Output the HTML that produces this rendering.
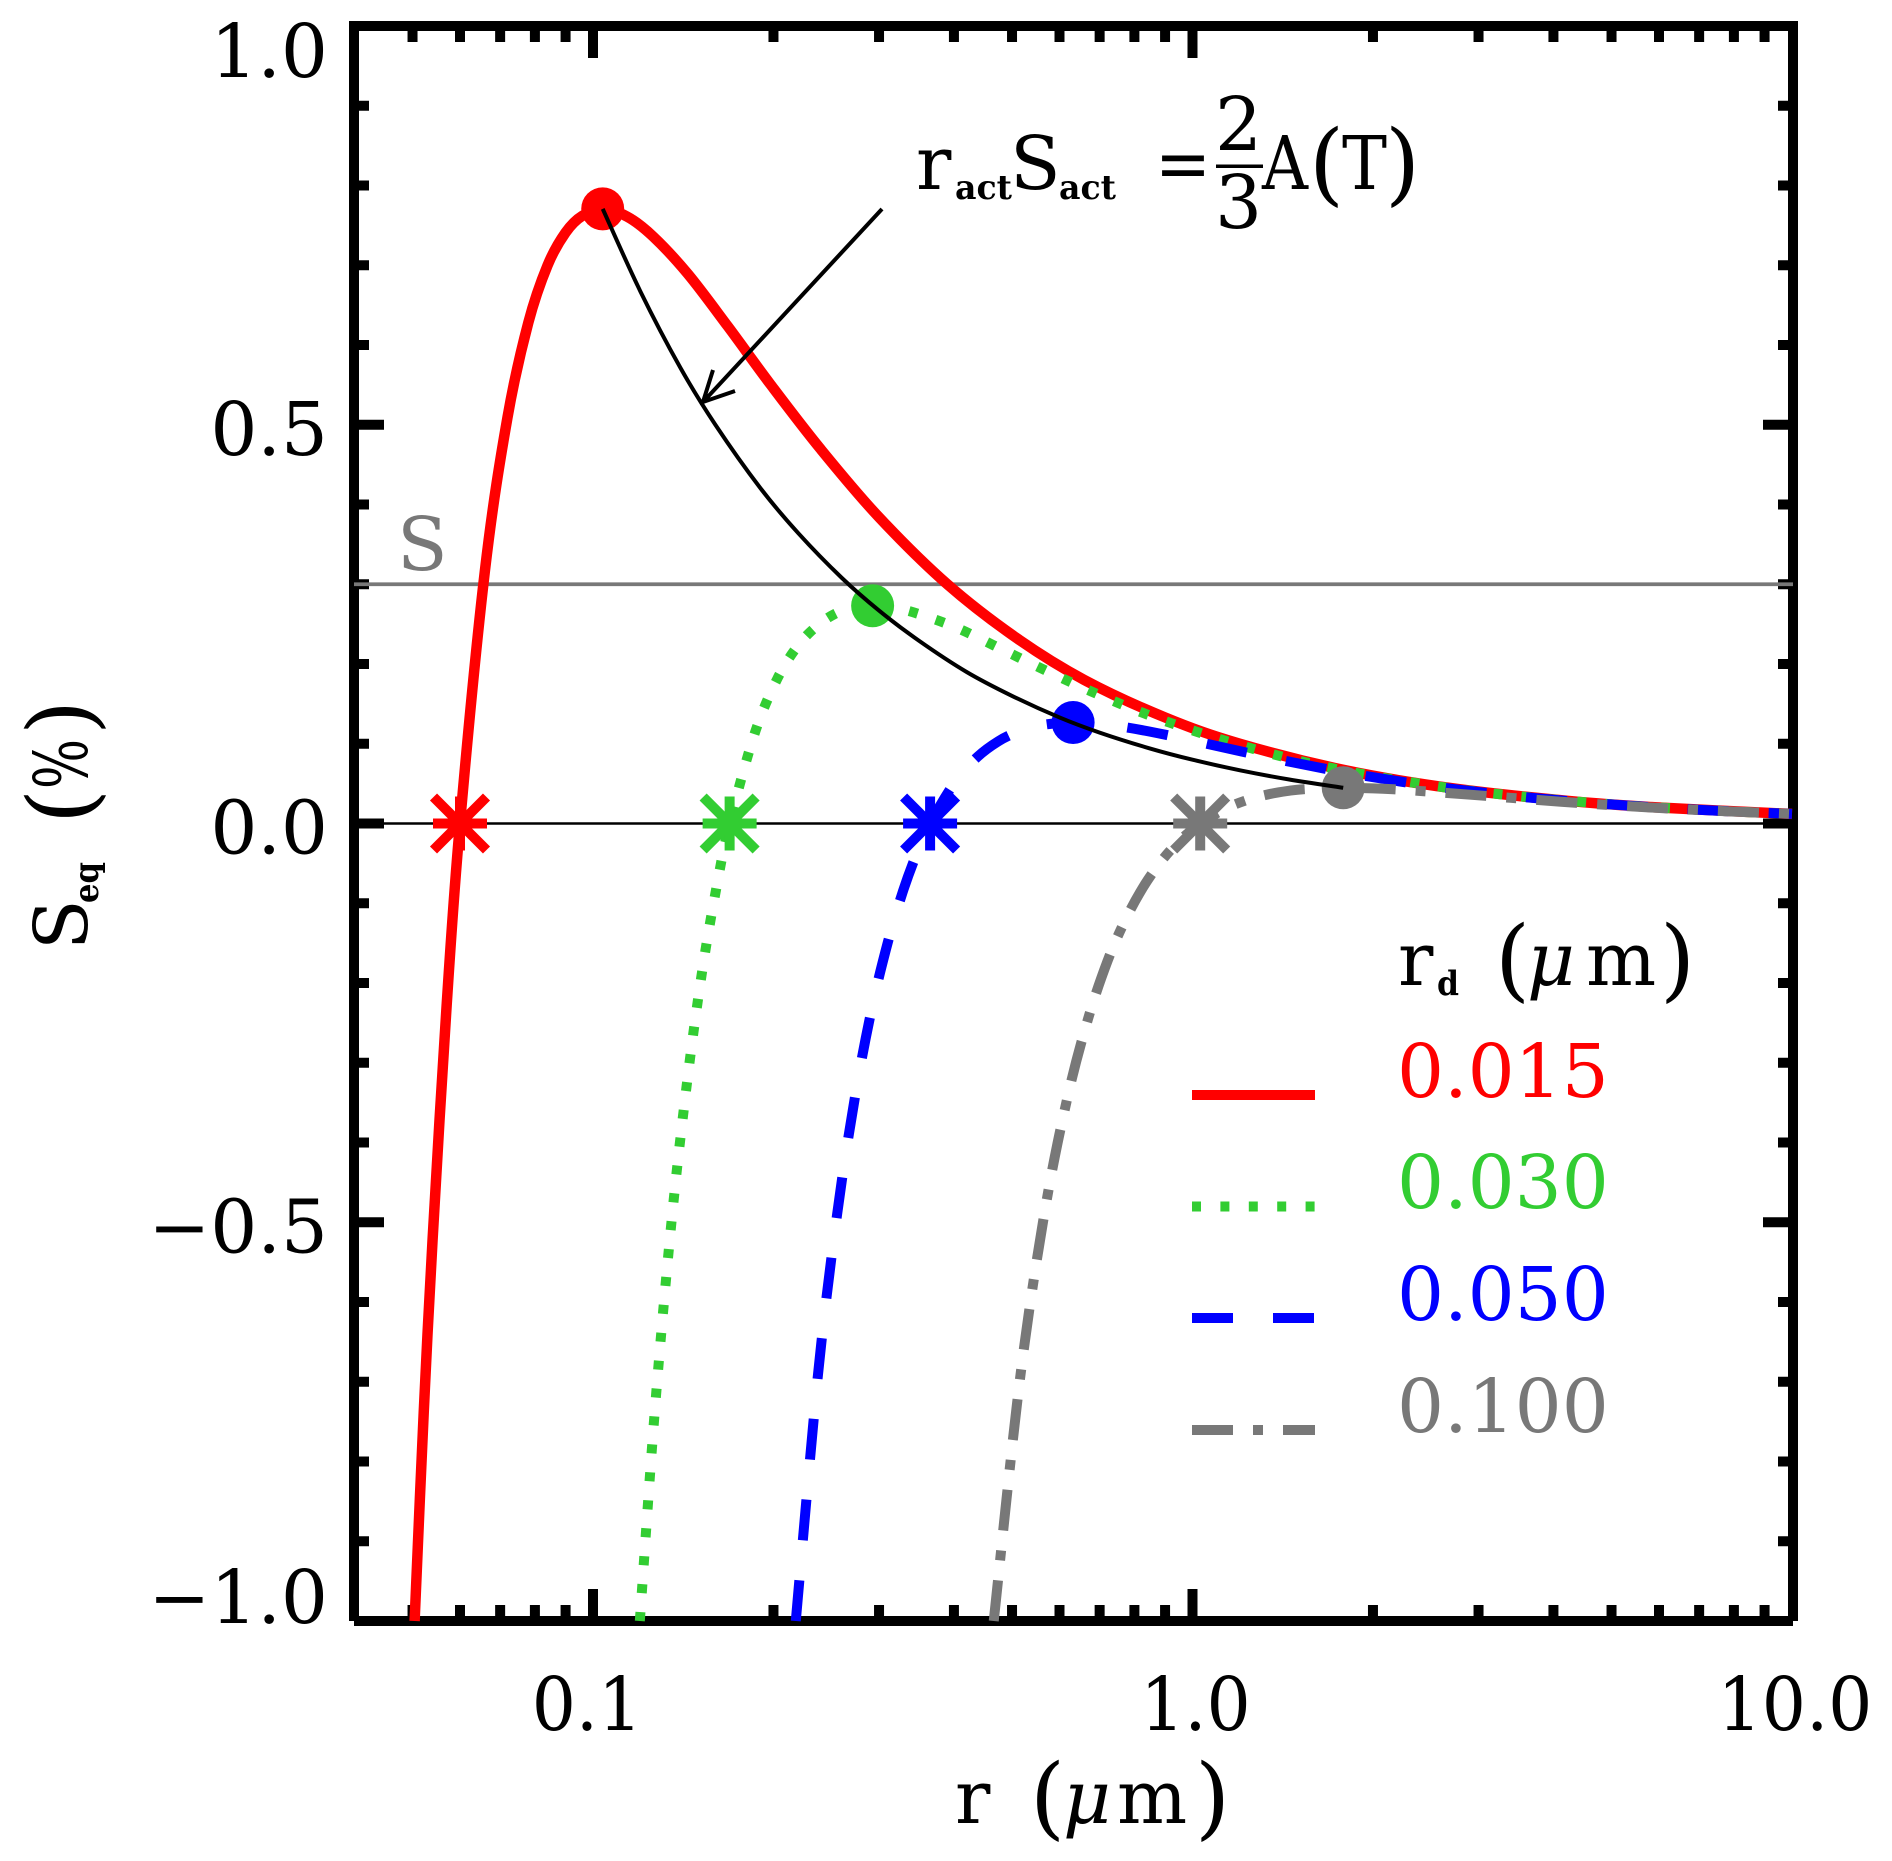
<!DOCTYPE html>
<html lang="en">
<head>
<meta charset="utf-8">
<title>Kohler curves</title>
<style>
html,body{margin:0;padding:0;background:#fff;}
svg{display:block;}
text{font-family:"DejaVu Serif","Liberation Serif",serif;font-size:74px;fill:#000;}
.sub{font-weight:bold;font-size:34px;}
.mu{font-style:italic;}
.paren{font-size:90px;}
</style>
</head>
<body>
<svg id="chart" xmlns="http://www.w3.org/2000/svg" width="1892" height="1861" viewBox="0 0 1892 1861">
  <rect x="0" y="0" width="1892" height="1861" fill="#ffffff"/>
  <g id="axes"></g>
  <g id="marks"></g>

  <text x="397" y="570" style="fill:#787878">S</text>

  <g>
    <text x="916" y="189">r</text>
    <text class="sub" x="955" y="199" textLength="57" lengthAdjust="spacingAndGlyphs">act</text>
    <text x="1010" y="189">S</text>
    <text class="sub" x="1059" y="199" textLength="57" lengthAdjust="spacingAndGlyphs">act</text>
    <text x="1155" y="189" textLength="56" lengthAdjust="spacingAndGlyphs">=</text>
    <text x="1215" y="150">2</text>
    <rect x="1216" y="164.5" width="47" height="3.5" fill="#000"/>
    <text x="1215" y="228">3</text>
    <text x="1262" y="189" textLength="46" lengthAdjust="spacingAndGlyphs">A</text>
    <text class="paren" x="1309" y="194">(</text>
    <text x="1342" y="189" textLength="45" lengthAdjust="spacingAndGlyphs">T</text>
    <text class="paren" x="1385" y="194">)</text>
  </g>

  <g>
    <text x="955" y="1823">r</text>
    <text class="paren" x="1030" y="1828">(</text>
    <text class="mu" x="1063" y="1823">μ</text>
    <text x="1117" y="1823">m</text>
    <text class="paren" x="1195" y="1828">)</text>
  </g>

  <g>
    <text transform="translate(87,950) rotate(-90)">S</text>
    <text class="sub" transform="translate(98,903) rotate(-90)" textLength="41" lengthAdjust="spacingAndGlyphs">eq</text>
    <text class="paren" transform="translate(92,824) rotate(-90)">(</text>
    <text transform="translate(87,789) rotate(-90)" textLength="50" lengthAdjust="spacingAndGlyphs">%</text>
    <text class="paren" transform="translate(92,735) rotate(-90)">)</text>
  </g>

  <g>
    <text x="1398" y="985">r</text>
    <text class="sub" x="1437" y="995" textLength="22" lengthAdjust="spacingAndGlyphs">d</text>
    <text class="paren" x="1495" y="990">(</text>
    <text class="mu" x="1527" y="985">μ</text>
    <text x="1586" y="985">m</text>
    <text class="paren" x="1660" y="990">)</text>
    <text x="1397" y="1097" style="fill:#ff0000">0.015</text>
    <text x="1397" y="1208" style="fill:#32cd32">0.030</text>
    <text x="1397" y="1320" style="fill:#0000ff">0.050</text>
    <text x="1397" y="1432" style="fill:#787878">0.100</text>
    <line x1="1192" x2="1315" y1="1095" y2="1095" stroke="#ff0000" stroke-width="10"/>
    <line x1="1192" x2="1315" y1="1206.5" y2="1206.5" stroke="#32cd32" stroke-width="10" stroke-dasharray="9 19.4"/>
    <line x1="1192" x2="1315" y1="1318" y2="1318" stroke="#0000ff" stroke-width="10" stroke-dasharray="41 40"/>
    <line x1="1192" x2="1315" y1="1430" y2="1430" stroke="#787878" stroke-width="10" stroke-dasharray="41 20 10 20"/>
  </g>
</svg>

<script>
// Axis ticks and labels
const xMajorTicks = [0.1, 1, 10];
const xMinorTicks = [0.05, 0.06, 0.07, 0.08, 0.09, 0.2, 0.3, 0.4, 0.5, 0.6, 0.7, 0.8, 0.9, 2, 3, 4, 5, 6, 7, 8, 9];
const xTickLabels = ["0.1", "1.0", "10.0"];
const yMajorTicks = [-1, -0.5, 0, 0.5, 1];
const yMinorTicks = [-0.9, -0.8, -0.7, -0.6, -0.4, -0.3, -0.2, -0.1, 0.1, 0.2, 0.3, 0.4, 0.6, 0.7, 0.8, 0.9];
const yTickLabels = ["\u22121.0", "\u22120.5", "0.0", "0.5", "1.0"];
const saturationLevel = 0.3;

// Curve for r_d = 0.015
const redR = [0.0504, 0.0522, 0.054, 0.057, 0.06, 0.066, 0.072, 0.078, 0.084, 0.09, 0.096, 0.1039, 0.114, 0.126, 0.144, 0.168, 0.198, 0.24, 0.3, 0.39, 0.51, 0.66, 0.9, 1.2, 1.8, 2.7, 4.2, 6, 10];
const redS = [-1.0, -0.738, -0.522, -0.228, 0, 0.316, 0.509, 0.628, 0.700, 0.741, 0.762, 0.770, 0.761, 0.736, 0.689, 0.623, 0.550, 0.469, 0.384, 0.300, 0.232, 0.180, 0.133, 0.100, 0.0667, 0.0444, 0.0286, 0.02, 0.012];

// Curve for r_d = 0.030
const greenR = [0.1197, 0.1268, 0.1352, 0.1437, 0.1521, 0.1606, 0.169, 0.1859, 0.2028, 0.2197, 0.2366, 0.2535, 0.2704, 0.2927, 0.3211, 0.3549, 0.4056, 0.4732, 0.5577, 0.676, 0.845, 1.0985, 1.4365, 1.859, 2.535, 3.38, 5.07, 7.605, 10];
const greenS = [-1.0, -0.736, -0.499, -0.321, -0.185, -0.081, 0, 0.112, 0.181, 0.223, 0.248, 0.263, 0.270, 0.273, 0.270, 0.261, 0.245, 0.221, 0.195, 0.166, 0.136, 0.107, 0.0824, 0.064, 0.0471, 0.0354, 0.0237, 0.0158, 0.012];

// Curve for r_d = 0.050
const blueR = [0.2179, 0.2373, 0.2555, 0.2738, 0.292, 0.3103, 0.3285, 0.3468, 0.365, 0.4015, 0.438, 0.4745, 0.511, 0.5475, 0.584, 0.6322, 0.6935, 0.7665, 0.876, 1.022, 1.2045, 1.46, 1.825, 2.3725, 3.1025, 4.015, 5.475, 7.3, 10];
const blueS = [-1.0, -0.691, -0.489, -0.341, -0.231, -0.149, -0.086, -0.0375, 0, 0.052, 0.0837, 0.1032, 0.115, 0.1218, 0.1252, 0.1266, 0.1251, 0.1211, 0.1132, 0.1024, 0.0905, 0.0771, 0.0631, 0.0494, 0.0381, 0.0296, 0.0218, 0.0164, 0.012];

// Curve for r_d = 0.100
const grayR = [0.4661, 0.515, 0.5665, 0.618, 0.6695, 0.721, 0.7725, 0.824, 0.8755, 0.927, 0.9785, 1.03, 1.133, 1.236, 1.339, 1.442, 1.545, 1.784, 2.163, 2.884, 4.12, 5.15, 6.695, 10];
const grayS = [-1.0, -0.699, -0.488, -0.345, -0.245, -0.173, -0.121, -0.082, -0.0527, -0.0304, -0.0133, 0, 0.0184, 0.0297, 0.0366, 0.0408, 0.0432, 0.0448, 0.0429, 0.0363, 0.0273, 0.0224, 0.0175, 0.012];

// Locus of activation points
const locusR = [0.1038, 0.12, 0.14, 0.16, 0.19, 0.22, 0.26, 0.3, 0.35, 0.42, 0.5, 0.6, 0.7, 0.85, 1.0, 1.2, 1.45, 1.784];
const locusS = [0.7707, 0.667, 0.571, 0.5, 0.421, 0.364, 0.308, 0.267, 0.229, 0.19, 0.16, 0.133, 0.114, 0.094, 0.08, 0.0667, 0.0552, 0.0448];

// Activation points (circles) and equilibrium radii (asterisks)
const activationR = [0.1038, 0.2927, 0.6322, 1.784];
const activationS = [0.7707, 0.273, 0.1266, 0.0448];
const zeroCrossingR = [0.06, 0.169, 0.365, 1.03];
const seriesNames = ["0-015", "0-030", "0-050", "0-100"];
const seriesColors = ["#ff0000", "#32cd32", "#0000ff", "#787878"];

const SVGNS = "http://www.w3.org/2000/svg";
const axesGroup = document.getElementById("axes");
const marksGroup = document.getElementById("marks");

function xScale(r) { return 593 + 599.5 * Math.log10(r / 0.1); }
function yScale(s) { return 823.5 - 797.5 * s; }

function makeEl(tag, parent, attrs) {
  const el = document.createElementNS(SVGNS, tag);
  for (const k in attrs) el.setAttribute(k, attrs[k]);
  parent.appendChild(el);
  return el;
}

function linePath(rs, ss) {
  const p = rs.map((r, i) => [xScale(r), yScale(ss[i])]);
  let d = "M" + p[0][0].toFixed(2) + " " + p[0][1].toFixed(2);
  for (let i = 0; i < p.length - 1; i++) {
    const a = p[Math.max(0, i - 1)], b = p[i], c = p[i + 1], e = p[Math.min(p.length - 1, i + 2)];
    const c1x = b[0] + (c[0] - a[0]) / 6, c1y = b[1] + (c[1] - a[1]) / 6;
    const c2x = c[0] - (e[0] - b[0]) / 6, c2y = c[1] - (e[1] - b[1]) / 6;
    d += "C" + c1x.toFixed(2) + " " + c1y.toFixed(2) + " " + c2x.toFixed(2) + " " + c2y.toFixed(2) + " " + c[0].toFixed(2) + " " + c[1].toFixed(2);
  }
  return d;
}

// ---- Ticks ----
function drawXTick(v, len, side) {
  const x = xScale(v);
  const y1 = side === "top" ? 31 : 1616;
  const y2 = side === "top" ? 31 + len : 1616 - len;
  const t = makeEl("line", axesGroup, { x1: x, x2: x, y1: y1, y2: y2, stroke: "#000", "stroke-width": 10 });
  
  
}
function drawYTick(v, len, side) {
  const y = yScale(v);
  const x1 = side === "left" ? 359 : 1788;
  const x2 = side === "left" ? 359 + len : 1788 - len;
  const t = makeEl("line", axesGroup, { x1: x1, x2: x2, y1: y, y2: y, stroke: "#000", "stroke-width": 10 });
  
  
}
["top", "bottom"].forEach(function (side) {
  xMajorTicks.slice(0, 2).forEach(function (v) { drawXTick(v, 27, side); });
  xMinorTicks.forEach(function (v) { drawXTick(v, 11, side); });
});
["left", "right"].forEach(function (side) {
  yMajorTicks.slice(1, 4).forEach(function (v) { drawYTick(v, 25, side); });
  yMinorTicks.forEach(function (v) { drawYTick(v, 10, side); });
});

// ---- Frame ----
const frameSides = [
  ["left-axis", 354, 21, 354, 1621],
  ["right-axis", 1793, 21, 1793, 1621],
  ["top-axis", 353, 26, 1798, 26],
  ["bottom-axis", 354, 1621, 1793, 1621]
];
frameSides.forEach(function (f) {
  const side = makeEl("line", axesGroup, { x1: f[1], y1: f[2], x2: f[3], y2: f[4], stroke: "#000", "stroke-width": 10 });
  
  
});

// ---- Tick labels ----
xMajorTicks.forEach(function (v, i) {
  const label = makeEl("text", axesGroup, { x: xScale(v) + (v < 1 ? -6 : 3), y: 1730, "text-anchor": "middle" });
  label.textContent = xTickLabels[i];
  
  
  label.setAttribute('textLength', (label.getComputedTextLength() * 0.94).toFixed(1));
  label.setAttribute('lengthAdjust', 'spacingAndGlyphs');
});
yMajorTicks.forEach(function (v, i) {
  const base = Math.min(1623, Math.max(77, yScale(v) + 30));
  const label = makeEl("text", axesGroup, { x: 328, y: base, "text-anchor": "end" });
  label.textContent = yTickLabels[i];
  
  
});

// ---- Reference lines ----
const zeroLine = makeEl("line", marksGroup, { x1: 354, x2: 1793, y1: yScale(0), y2: yScale(0), stroke: "#000", "stroke-width": 2.5 });


const satLine = makeEl("line", marksGroup, { x1: 354, x2: 1793, y1: yScale(saturationLevel), y2: yScale(saturationLevel), stroke: "#787878", "stroke-width": 3.8 });



// ---- Curves ----
const redCurve = makeEl("path", marksGroup, { d: linePath(redR, redS), fill: "none", stroke: seriesColors[0], "stroke-width": 10.5 });


const greenCurve = makeEl("path", marksGroup, { d: linePath(greenR, greenS), fill: "none", stroke: seriesColors[1], "stroke-width": 10, "stroke-dasharray": "9 19" });


const blueCurve = makeEl("path", marksGroup, { d: linePath(blueR, blueS), fill: "none", stroke: seriesColors[2], "stroke-width": 10, "stroke-dasharray": "41 40" });


const grayCurve = makeEl("path", marksGroup, { d: linePath(grayR, grayS), fill: "none", stroke: seriesColors[3], "stroke-width": 10, "stroke-dasharray": "41 20 10 20" });



// ---- Activation circles ----
activationR.forEach(function (r, i) {
  const c = makeEl("circle", marksGroup, { cx: xScale(r), cy: yScale(activationS[i]), r: 21.5, fill: seriesColors[i] });
  
  
});

// ---- Asterisks at S = 0 ----
const armVectors = [[27, 0], [0, 27], [26.5, 26.5], [26.5, -26.5]];
zeroCrossingR.forEach(function (r, i) {
  const g = makeEl("g", marksGroup, {});
  
  
  const cx = xScale(r), cy = yScale(0);
  armVectors.forEach(function (a) {
    const arm = makeEl("line", g, { x1: cx - a[0], y1: cy - a[1], x2: cx + a[0], y2: cy + a[1], stroke: seriesColors[i], "stroke-width": 10 });
    
    
  });
});

// ---- Activation locus ----
const locusCurve = makeEl("path", marksGroup, { d: linePath(locusR, locusS), fill: "none", stroke: "#000", "stroke-width": 4 });



// ---- Annotation arrow ----
const arrowShaft = makeEl("path", marksGroup, { d: "M882 209L703 402M713 370L703 402L735 391", fill: "none", stroke: "#000", "stroke-width": 4 });


</script>
</body>
</html>
